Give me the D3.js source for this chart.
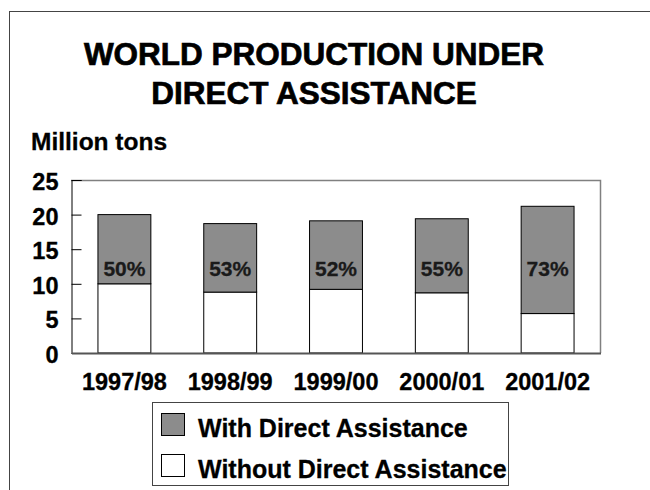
<!DOCTYPE html>
<html>
<head>
<meta charset="utf-8">
<script src="https://cdn.jsdelivr.net/npm/d3@7"></script>
<style>
  html, body { margin: 0; padding: 0; background: #fff; }
  svg { display: block; font-family: Arial, "Liberation Sans", sans-serif; font-weight: bold; }
</style>
</head>
<body>
<svg id="chart" width="650" height="490"></svg>
<script>
const categories = ["1997/98", "1998/99", "1999/00", "2000/01", "2001/02"];
const withoutDA = [10.0, 8.8, 9.2, 8.7, 5.7];
const withDA = [10.0, 9.9, 9.9, 10.7, 15.5];
const shareLabels = ["50%", "53%", "52%", "55%", "73%"];
const yTicks = [0, 5, 10, 15, 20, 25];
const seriesNames = ["With Direct Assistance", "Without Direct Assistance"];
const seriesColors = ["#8c8c8c", "#ffffff"];
const titleLines = ["WORLD PRODUCTION UNDER", "DIRECT ASSISTANCE"];
const yLabel = "Million tons";

const svg = d3.select("#chart");
const FONT = "Arial, 'Liberation Sans', sans-serif";

svg.append("rect").attr("x", 9.5).attr("y", 11.5).attr("width", 700).attr("height", 600)
  .attr("fill", "none").attr("stroke", "#444").attr("stroke-width", 1);

svg.append("g").selectAll("text").data(titleLines).join("text")
  .attr("x", 314).attr("y", (d, i) => 65 + i * 39)
  .attr("text-anchor", "middle").attr("font-size", 31.5).attr("fill", "#000")
  .attr("stroke", "#000").attr("stroke-width", 0.7)
  .text(d => d);

svg.append("text").attr("x", 31).attr("y", 150).attr("font-size", 24.5).attr("fill", "#000")
  .attr("stroke", "#000").attr("stroke-width", 0.3).text(yLabel);

const pLeft = 71, pRight = 600, pTop = 180, pBottom = 353;
const x = d3.scaleBand().domain(categories).range([pLeft, pRight]).paddingInner(0.5).paddingOuter(0.25);
const y = d3.scaleLinear().domain([0, 25]).range([pBottom, pTop]);

svg.append("path")
  .attr("d", `M${pLeft},${pTop + 0.5}H${pRight + 0.5}V${pBottom}`)
  .attr("fill", "none").attr("stroke", "#808080").attr("stroke-width", 1.5);

const data = categories.map((c, i) => ({ c, w: withoutDA[i], d: withDA[i], lab: shareLabels[i] }));

const g = svg.append("g");
g.selectAll("rect.wo").data(data).join("rect").attr("class", "wo")
  .attr("x", d => x(d.c) + 0.5).attr("width", x.bandwidth())
  .attr("y", d => y(d.w)).attr("height", d => y(0) - y(d.w))
  .attr("fill", seriesColors[1]).attr("stroke", "#000").attr("stroke-width", 1);
g.selectAll("rect.wi").data(data).join("rect").attr("class", "wi")
  .attr("x", d => x(d.c) + 0.5).attr("width", x.bandwidth())
  .attr("y", d => y(d.w + d.d)).attr("height", d => y(d.w) - y(d.w + d.d))
  .attr("fill", seriesColors[0]).attr("stroke", "#000").attr("stroke-width", 1);

g.selectAll("text.pct").data(data).join("text").attr("class", "pct")
  .attr("x", d => x(d.c) + x.bandwidth() / 2 + 0.5).attr("y", y(12.2) + 7.5)
  .attr("text-anchor", "middle").attr("font-size", 21).attr("fill", "#1a1a1a")
  .attr("stroke", "#1a1a1a").attr("stroke-width", 0.3)
  .text(d => d.lab);

const yAxis = d3.axisLeft(y).tickValues(yTicks).tickSize(-10).tickPadding(13);
const ya = svg.append("g").attr("transform", `translate(${pLeft + 0.5},0)`).call(yAxis);
ya.select(".domain").attr("stroke", "#000").attr("stroke-width", 1);
ya.selectAll(".tick line").attr("stroke", "#000");
ya.selectAll(".tick text").attr("font-size", 23.5).attr("font-family", FONT)
  .attr("font-weight", "bold").attr("fill", "#000").attr("stroke", "#000").attr("stroke-width", 0.3)
  .attr("dy", "0.4em");

const xAxis = d3.axisBottom(x).tickSize(0).tickPadding(20);
const xa = svg.append("g").attr("transform", `translate(0.5,${pBottom})`).call(xAxis);
xa.select(".domain").attr("stroke", "#555").attr("stroke-width", 2);
xa.selectAll(".tick text").attr("font-size", 23.5).attr("font-family", FONT)
  .attr("font-weight", "bold").attr("fill", "#000").attr("stroke", "#000").attr("stroke-width", 0.3);

const lg = svg.append("g");
lg.append("rect").attr("x", 152.5).attr("y", 402.5).attr("width", 356).attr("height", 83)
  .attr("fill", "#fff").attr("stroke", "#444").attr("stroke-width", 1);
const items = lg.selectAll("g.item").data(seriesNames).join("g").attr("class", "item")
  .attr("transform", (d, i) => `translate(0,${i * 41})`);
items.append("rect").attr("x", 161.5).attr("y", 413.5).attr("width", 23).attr("height", 22)
  .attr("fill", (d, i) => seriesColors[i]).attr("stroke", "#000").attr("stroke-width", 1);
items.append("text").attr("x", 198).attr("y", 437).attr("font-size", 25).attr("fill", "#000")
  .attr("stroke", "#000").attr("stroke-width", 0.3).text(d => d);
</script>
</body>
</html>
